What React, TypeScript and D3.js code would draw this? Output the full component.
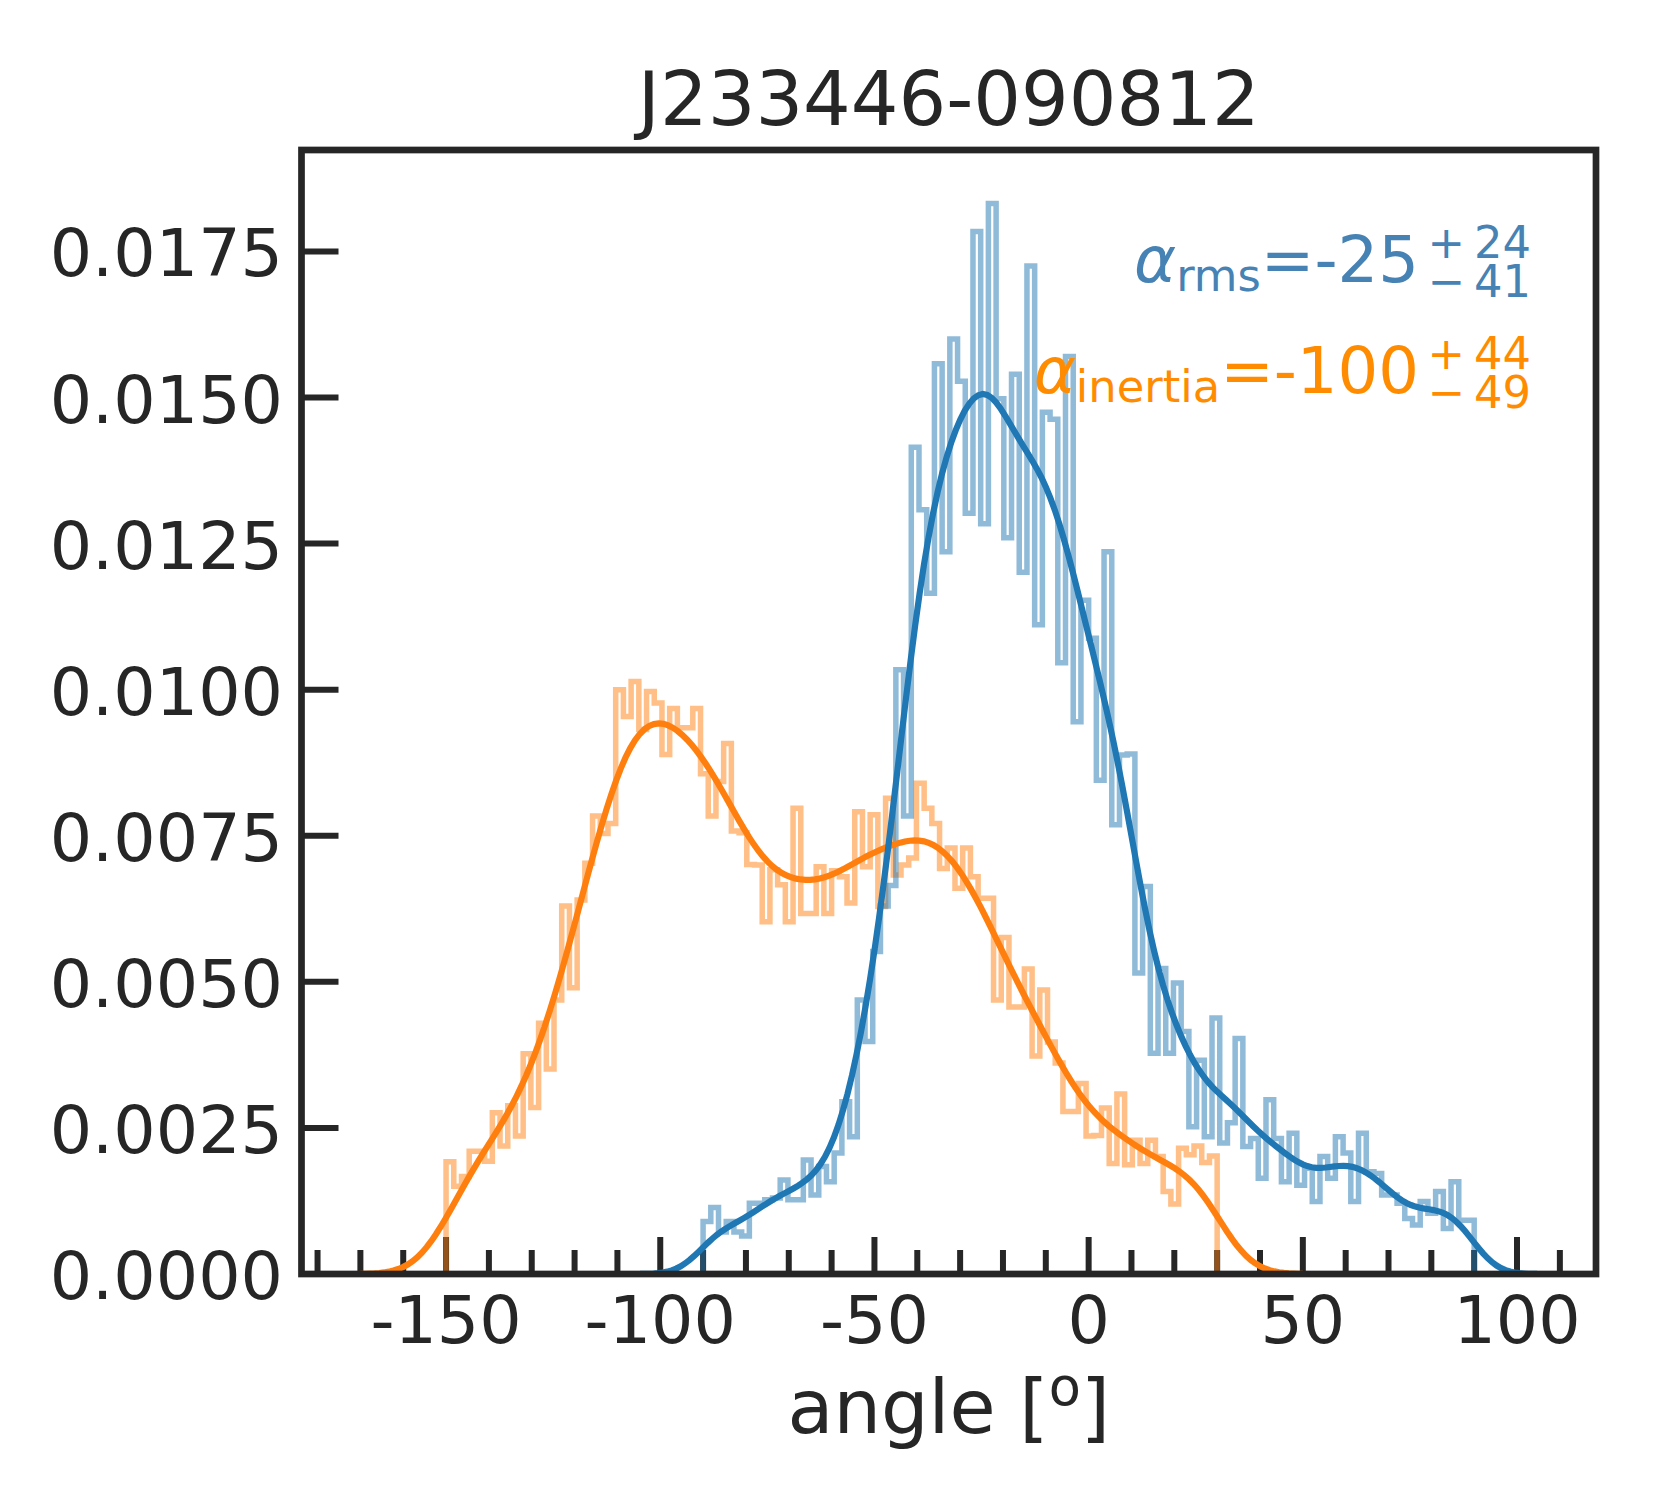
import { useMemo } from 'react'
import * as d3 from 'd3'

const TITLE = 'J233446-090812'
const X_LABEL = 'angle ['

// histogram ranges (100 bins each), density values
const RMS_RANGE = [-90, 90]
const INERTIA_RANGE = [-150, 30]

const RMS_DENSITY = [
  0.00090, 0.00114, 0.00072, 0.00090, 0.00072, 0.00065, 0.00121, 0.00121, 0.00127, 0.00130,
  0.00161, 0.00127, 0.00127, 0.00195, 0.00135, 0.00184, 0.00158, 0.00207, 0.00295, 0.00235,
  0.00469, 0.00398, 0.00552, 0.00630, 0.00665, 0.01034, 0.00784, 0.01415, 0.01308, 0.01165,
  0.01558, 0.01236, 0.01600, 0.01528, 0.01302, 0.01784, 0.01284, 0.01832, 0.01498, 0.01260,
  0.01540, 0.01201, 0.01725, 0.01111, 0.01475, 0.01463, 0.01046, 0.01570, 0.00945, 0.01153,
  0.01088, 0.00845, 0.01236, 0.00769, 0.00888, 0.00890, 0.00515, 0.00663, 0.00378, 0.00523,
  0.00378, 0.00498, 0.00415, 0.00252, 0.00366, 0.00235, 0.00438, 0.00224, 0.00259, 0.00403,
  0.00218, 0.00232, 0.00164, 0.00298, 0.00232, 0.00158, 0.00241, 0.00152, 0.00181, 0.00124,
  0.00201, 0.00164, 0.00235, 0.00207, 0.00124, 0.00241, 0.00175, 0.00172, 0.00135, 0.00135,
  0.00121, 0.00095, 0.00084, 0.00124, 0.00104, 0.00141, 0.00078, 0.00158, 0.00092, 0.00092,
]

const INERTIA_DENSITY = [
  0.00192, 0.00150, 0.00167, 0.00210, 0.00210, 0.00193, 0.00276, 0.00219, 0.00288, 0.00236,
  0.00377, 0.00285, 0.00429, 0.00351, 0.00469, 0.00630, 0.00490, 0.00640, 0.00703, 0.00784,
  0.00754, 0.00771, 0.01000, 0.00954, 0.01014, 0.00932, 0.00997, 0.00977, 0.00889, 0.00968,
  0.00935, 0.00935, 0.00968, 0.00856, 0.00784, 0.00843, 0.00908, 0.00758, 0.00755, 0.00701,
  0.00700, 0.00603, 0.00692, 0.00666, 0.00603, 0.00797, 0.00617, 0.00617, 0.00697, 0.00617,
  0.00690, 0.00680, 0.00635, 0.00791, 0.00697, 0.00786, 0.00629, 0.00814, 0.00683, 0.00700,
  0.00712, 0.00840, 0.00797, 0.00771, 0.00694, 0.00729, 0.00660, 0.00729, 0.00680, 0.00643,
  0.00643, 0.00469, 0.00576, 0.00457, 0.00457, 0.00522, 0.00373, 0.00486, 0.00397, 0.00361,
  0.00278, 0.00278, 0.00326, 0.00236, 0.00237, 0.00284, 0.00189, 0.00308, 0.00187, 0.00229,
  0.00189, 0.00229, 0.00201, 0.00141, 0.00120, 0.00215, 0.00204, 0.00219, 0.00191, 0.00202,
]

// kde bandwidths (degrees)
const RMS_BW = 4.9
const INERTIA_BW = 6.67

// value, +err, -err
const RMS_ESTIMATE = [-25, 24, 41]
const INERTIA_ESTIMATE = [-100, 44, 49]

const X_TICKS = [-150, -100, -50, 0, 50, 100]
const Y_TICKS = [0, 0.0025, 0.005, 0.0075, 0.01, 0.0125, 0.015, 0.0175]

const BLUE = '#1f77b4'
const ORANGE = '#ff7f0e'
const INK = '#262626'
const FONT = 'DejaVu Sans'

const width = 1680
const height = 1500
const margin = { top: 150, right: 84, bottom: 226, left: 301.5 }

function edges(range: number[], n: number) {
  const step = (range[1] - range[0]) / n
  return d3.range(n + 1).map(i => range[0] + i * step)
}

// matplotlib 'step' outline
function stepPoints(range: number[], dens: number[]): [number, number][] {
  const e = edges(range, dens.length)
  const pts: [number, number][] = [[e[0], 0]]
  dens.forEach((v, i) => {
    pts.push([e[i], v])
    pts.push([e[i + 1], v])
  })
  pts.push([e[dens.length], 0])
  return pts
}

// gaussian kde over the binned density, seaborn-like grid (cut = 3)
function kde(range: number[], dens: number[], bw: number): [number, number][] {
  const e = edges(range, dens.length)
  const step = e[1] - e[0]
  const centers = dens.map((_, i) => e[i] + step / 2)
  const total = d3.sum(dens) * step
  const grid = d3.range(200).map(i => range[0] - 3 * bw + (i * (range[1] - range[0] + 6 * bw)) / 199)
  const norm = 1 / (bw * Math.sqrt(2 * Math.PI))
  return grid.map(g => {
    let s = 0
    centers.forEach((c, i) => {
      const z = (g - c) / bw
      s += dens[i] * step * Math.exp(-0.5 * z * z)
    })
    return [g, (s * norm) / total]
  })
}

const App = () => {
  const x0 = margin.left
  const x1 = width - margin.right
  const y0 = height - margin.bottom
  const y1 = margin.top

  const { x, y, rmsKde, inertiaKde } = useMemo(() => {
    const lo = Math.min(RMS_RANGE[0] - 3 * RMS_BW, INERTIA_RANGE[0] - 3 * INERTIA_BW)
    const hi = Math.max(RMS_RANGE[1] + 3 * RMS_BW, INERTIA_RANGE[1] + 3 * INERTIA_BW)
    const pad = (hi - lo) * 0.05
    const x = d3.scaleLinear().domain([lo - pad, hi + pad]).range([x0, x1])
    const ymax = (d3.max([...RMS_DENSITY, ...INERTIA_DENSITY]) || 0) * 1.05
    const y = d3.scaleLinear().domain([0, ymax]).range([y0, y1])
    return {
      x,
      y,
      rmsKde: kde(RMS_RANGE, RMS_DENSITY, RMS_BW),
      inertiaKde: kde(INERTIA_RANGE, INERTIA_DENSITY, INERTIA_BW),
    }
  }, [])

  const line = d3.line<[number, number]>().x(d => x(d[0])).y(d => y(d[1]))
  const [dlo, dhi] = x.domain()
  const minorTicks = d3.range(-180, 120, 10).filter(t => t >= dlo && t <= dhi && !X_TICKS.includes(t))
  const yFmt = d3.format('.4f')

  // alpha_sub = value ^{+err}_{-err}, one text element, each chunk right-aligned
  const estimate = (vals: number[], sub: string, color: string, base: number) => (
    <text x={1419} y={base} textAnchor="end" fontSize={64} fill={color} fontFamily={FONT}>
      <tspan fontStyle="italic">α</tspan>
      <tspan fontSize={44.8} dy={9}>{sub}</tspan>
      <tspan dy={-9}>={vals[0]}</tspan>
      <tspan x={1531} y={base - 24} fontSize={44.8}>{`+\u2009${vals[1]}`}</tspan>
      <tspan x={1531} y={base + 15} fontSize={44.8}>{`\u2212\u2009${vals[2]}`}</tspan>
    </text>
  )

  return (
    <svg
      width={width}
      height={height}
      style={{ position: 'absolute', left: 0, top: 0, background: '#fff' }}
    >
      {/* ticks (inward) */}
      <g stroke={INK} strokeWidth={6}>
        {X_TICKS.map(t => (
          <line key={`xM${t}`} x1={x(t)} x2={x(t)} y1={y0} y2={y0 - 37} />
        ))}
        {minorTicks.map(t => (
          <line key={`xm${t}`} x1={x(t)} x2={x(t)} y1={y0} y2={y0 - 24} />
        ))}
        {Y_TICKS.map(t => (
          <line key={`y${t}`} x1={x0} x2={x0 + 37} y1={y(t)} y2={y(t)} />
        ))}
      </g>

      {/* histograms */}
      <path d={line(stepPoints(INERTIA_RANGE, INERTIA_DENSITY)) || ''} fill="none"
        stroke={ORANGE} strokeOpacity={0.5} strokeWidth={5.5} />
      <path d={line(stepPoints(RMS_RANGE, RMS_DENSITY)) || ''} fill="none"
        stroke={BLUE} strokeOpacity={0.5} strokeWidth={5.5} />

      {/* kde */}
      <path d={line(inertiaKde) || ''} fill="none" stroke={ORANGE} strokeWidth={6.2} />
      <path d={line(rmsKde) || ''} fill="none" stroke={BLUE} strokeWidth={6.2} />

      {/* frame */}
      <rect x={x0} y={y1} width={x1 - x0} height={y0 - y1} fill="none" stroke={INK} strokeWidth={6.7} />

      {/* tick labels */}
      <g fill={INK} fontFamily={FONT} fontSize={66.7}>
        {X_TICKS.map(t => (
          <text key={`xl${t}`} x={x(t)} y={1343} textAnchor="middle">{t}</text>
        ))}
        {Y_TICKS.map(t => (
          <text key={`yl${t}`} x={283} y={y(t) + 25} textAnchor="end">{yFmt(t)}</text>
        ))}
      </g>

      <text x={(x0 + x1) / 2} y={125} textAnchor="middle" fontFamily={FONT} fontSize={75} fill={INK}>
        {TITLE}
      </text>
      <text x={(x0 + x1) / 2} y={1433} textAnchor="middle" fontFamily={FONT} fontSize={75} fill={INK}>
        {X_LABEL}
        <tspan fontSize={52.5} dy={-28}>o</tspan>
        <tspan dy={28}>]</tspan>
      </text>

      {estimate(RMS_ESTIMATE, 'rms', '#4682b4', 282)}
      {estimate(INERTIA_ESTIMATE, 'inertia', '#ff8c00', 393)}
    </svg>
  )
}

export default App
